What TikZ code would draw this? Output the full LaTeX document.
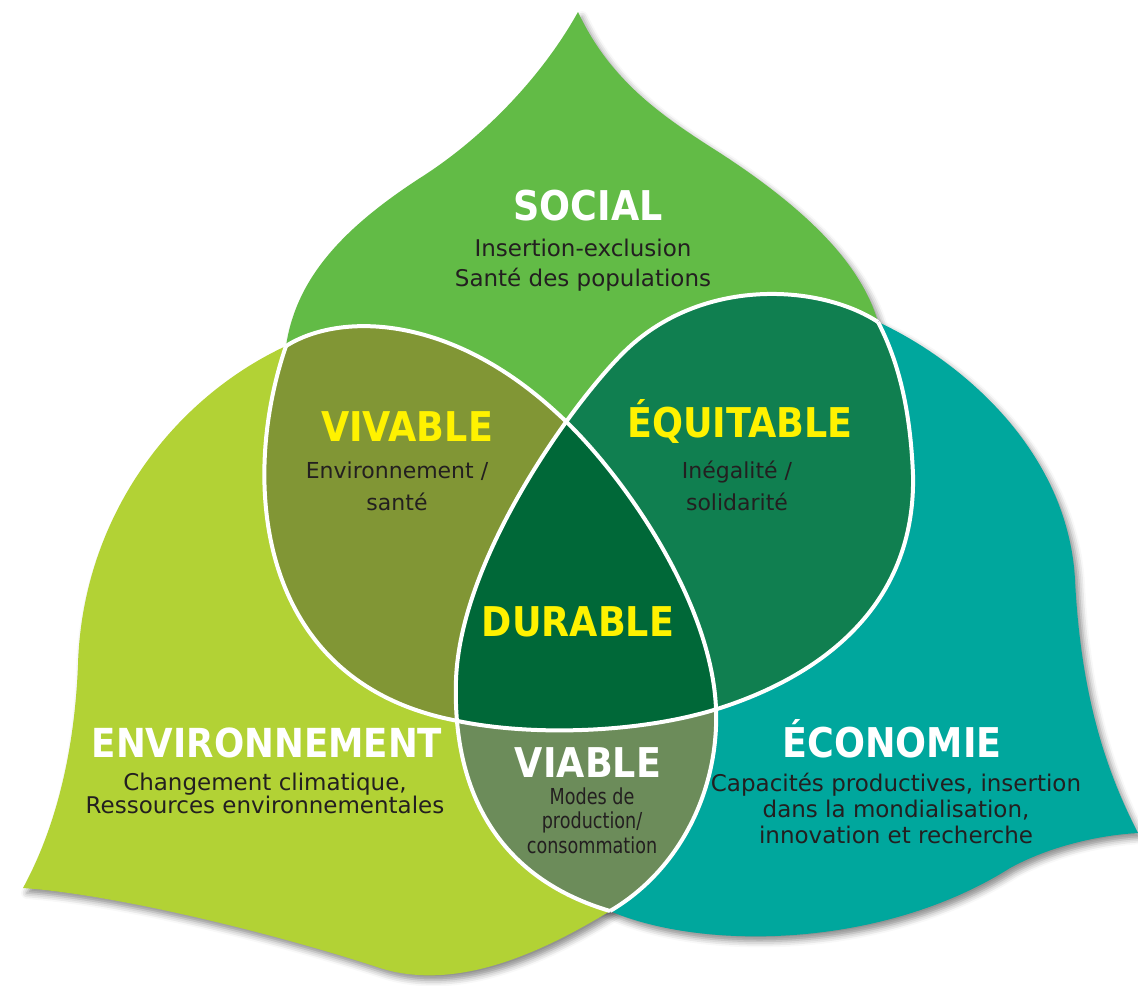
\documentclass[tikz,border=0pt]{standalone}
\usepackage{fontspec}
\setmainfont{DejaVu Sans}
\newfontfamily\titlefont{DejaVu Sans}[FakeStretch=0.89]
\newfontfamily\narrowfont{DejaVu Sans}[FakeStretch=0.8]
\usetikzlibrary{shadows.blur}

\definecolor{socialgreen}{RGB}{98,187,70}
\definecolor{envgreen}{RGB}{178,210,53}
\definecolor{ecoteal}{RGB}{0,167,157}
\definecolor{vivablecol}{RGB}{129,150,53}
\definecolor{equitcol}{RGB}{16,127,80}
\definecolor{durablecol}{RGB}{0,104,56}
\definecolor{viablecol}{RGB}{108,140,90}
\definecolor{titleyellow}{RGB}{255,242,0}
\definecolor{textdark}{RGB}{35,31,32}

% the three white arcs
\def\arcS{(286,346) .. controls (240,480) and (255,680) .. (453,720) .. controls (530,737) and (640,733) .. (717,709) .. controls (800,683) and (916,620) .. (913,475) .. controls (910,400) and (895,355) .. (878,322)}
\def\arcE{(286,346) .. controls (340,312) and (450,314) .. (557,413) .. controls (620,470) and (712,600) .. (716,709) .. controls (719,790) and (680,870) .. (610,911)}
\def\arcC{(878,322) .. controls (820,284) and (700,276) .. (623,353) .. controls (570,406) and (460,560) .. (456,680) .. controls (452,800) and (505,880) .. (610,911)}

% the three leaves
\def\socialleaf{\arcS .. controls (860,260) and (800,205) .. (720,153) .. controls (660,115) and (610,80) .. (578,12) .. controls (540,80) and (480,140) .. (420,178) .. controls (340,230) and (296,280) .. (286,346) -- cycle}
\def\envleaf{\arcE .. controls (530,960) and (450,990) .. (380,968) .. controls (280,935) and (120,895) .. (23,888) .. controls (60,820) and (75,740) .. (78,665) .. controls (82,520) and (170,400) .. (286,346) -- cycle}
\def\ecoleaf{\arcC .. controls (700,950) and (880,950) .. (1010,868) .. controls (1050,846) and (1100,835) .. (1138,833) .. controls (1100,760) and (1080,680) .. (1075,580) .. controls (1068,450) and (960,360) .. (878,322) -- cycle}

\begin{document}
\begin{tikzpicture}[x=0.5pt,y=-0.5pt,
	leaf/.style={blur shadow={shadow xshift=2pt,shadow yshift=-2.5pt,shadow blur radius=3pt,shadow opacity=45}},
	title/.style={anchor=base,inner sep=0,font=\titlefont\bfseries\fontsize{20.5}{24}\selectfont},
	body/.style={anchor=base,inner sep=0,align=center,text=textdark,font=\fontsize{11.5}{15}\selectfont}]
	\useasboundingbox (0,0) rectangle (1138,985);
	% shadows first, then the leaves
	\path[leaf] \socialleaf;
	\path[leaf] \envleaf;
	\path[leaf] \ecoleaf;
	\fill[socialgreen] \socialleaf;
	\fill[envgreen] \envleaf;
	\fill[ecoteal] \ecoleaf;
	% overlaps
	\begin{scope}
		\clip \socialleaf;
		\fill[vivablecol] \envleaf;
		\fill[equitcol] \ecoleaf;
	\end{scope}
	\begin{scope}
		\clip \envleaf;
		\fill[viablecol] \ecoleaf;
		\clip \socialleaf;
		\fill[durablecol] \ecoleaf;
	\end{scope}
	% white borders
	\draw[white,line width=2pt] \arcS;
	\draw[white,line width=2pt] \arcE;
	\draw[white,line width=2pt] \arcC;
	% labels
	\node[title,white] (social) at (588,220) {SOCIAL};
	\node[body] (socialtxt) at (583,286) {Insertion-exclusion\\Santé des populations};
	\node[title,titleyellow] (vivable) at (407,441) {VIVABLE};
	\node[body,font=\fontsize{11}{16}\selectfont] (vivabletxt) at (397,510) {Environnement /\\santé};
	\node[title,titleyellow] (equitable) at (740,437) {ÉQUITABLE};
	\node[body,font=\fontsize{11}{16}\selectfont] (equittxt) at (737,510) {Inégalité /\\solidarité};
	\node[title,titleyellow] (durable) at (578,636) {DURABLE};
	\node[title,white,font=\titlefont\bfseries\fontsize{20}{24}\selectfont] (env) at (267,757) {ENVIRONNEMENT};
	\node[body,font=\fontsize{11.5}{11.5}\selectfont] (envtxt) at (265,813) {Changement climatique,\\Ressources environnementales};
	\node[title,white] (viable) at (588,777) {VIABLE};
	\node[body,font=\narrowfont\fontsize{11}{12.25}\selectfont] (viabletxt) at (592,853) {Modes de\\production/\\consommation};
	\node[title,white] (eco) at (892,757) {ÉCONOMIE};
	\node[body,font=\fontsize{11.5}{13}\selectfont] (ecotxt) at (896,843) {Capacités productives, insertion\\dans la mondialisation,\\innovation et recherche};
\end{tikzpicture}
\end{document}
